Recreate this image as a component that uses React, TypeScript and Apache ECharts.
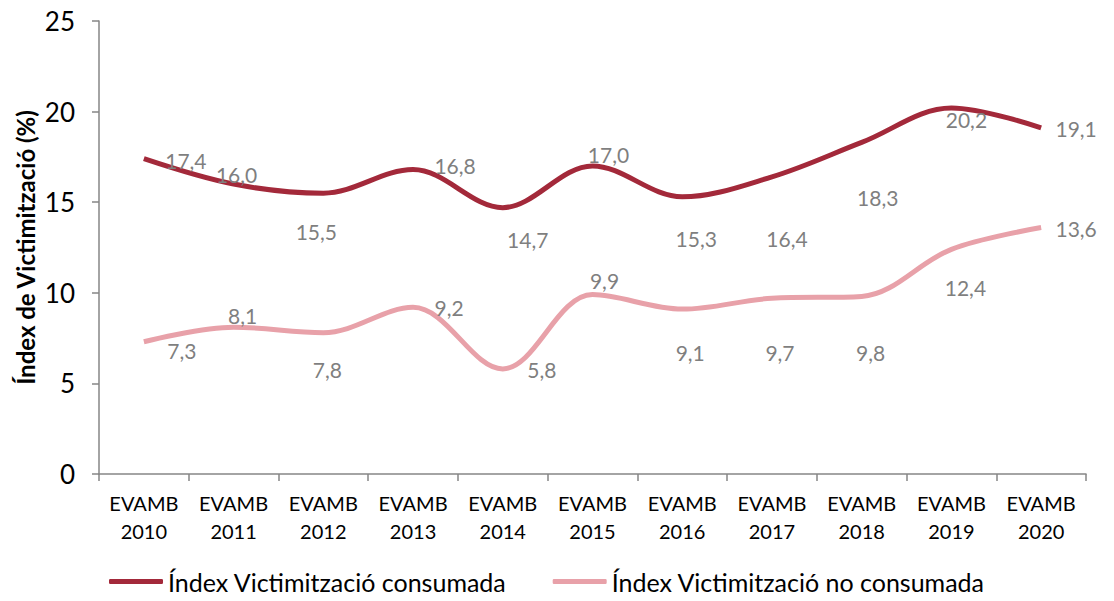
import React, { useEffect, useRef } from "react";
import * as echarts from "echarts";

const categories = ["EVAMB\n2010", "EVAMB\n2011", "EVAMB\n2012", "EVAMB\n2013", "EVAMB\n2014", "EVAMB\n2015", "EVAMB\n2016", "EVAMB\n2017", "EVAMB\n2018", "EVAMB\n2019", "EVAMB\n2020"];
const consumada = [17.4, 16.0, 15.5, 16.8, 14.7, 17.0, 15.3, 16.4, 18.3, 20.2, 19.1];
const noConsumada = [7.3, 8.1, 7.8, 9.2, 5.8, 9.9, 9.1, 9.7, 9.8, 12.4, 13.6];
const seriesNames = ["Índex Victimització consumada", "Índex Victimització no consumada"];
const yTicks = { min: 0, max: 25, interval: 5 };

const colorConsumada = "#A3293A";
const colorNoConsumada = "#E8A1A9";

// label offsets (pixels) relative to each point
const offsConsumada: [number, number][] = [[42, 2], [3, -10], [-7, 38], [42, -4], [25, 32], [16, -11], [14, 42], [15, 62], [16, 55], [15, 12], [35, 1]];
const offsNoConsumada: [number, number][] = [[38, 9], [9, -12], [4, 37], [36, 0], [39, 1], [12, -14], [8, 43], [8, 54], [9, 56], [14, 38], [35, 1]];

const FONT = "Lato, 'Open Sans', sans-serif";

function mkData(vals: number[], offs: [number, number][]) {
  return vals.map((v, i) => ({
    value: v,
    label: { offset: offs[i] },
  }));
}

export default function App() {
  const ref = useRef<HTMLDivElement>(null);
  useEffect(() => {
    const chart = echarts.init(ref.current!, null, { renderer: "svg" });
    const labelCommon = {
      show: true,
      position: "inside" as const,
      color: "#7f7f7f",
      fontSize: 21,
      fontFamily: FONT,
      formatter: (p: any) => p.value.toFixed(1).replace(".", ","),
    };
    chart.setOption({
      animation: false,
      textStyle: { fontFamily: FONT },
      grid: { left: 99, top: 21, right: 28, bottom: 127, containLabel: false },
      legend: {
        bottom: 2,
        left: 104,
        icon: "roundRect",
        itemWidth: 54,
        itemHeight: 5,
        itemGap: 46,
        textStyle: { fontSize: 25, color: "#000", fontFamily: FONT },
        data: [
          { name: seriesNames[0], itemStyle: { color: colorConsumada, opacity: 1 } },
          { name: seriesNames[1], itemStyle: { color: colorNoConsumada, opacity: 1 } },
        ],
      },
      xAxis: {
        type: "category",
        data: categories,
        boundaryGap: true,
        axisLine: { lineStyle: { color: "#868686", width: 1.5 } },
        axisTick: { show: true, interval: 0, length: 7, lineStyle: { color: "#868686", width: 1.5 } },
        axisLabel: { interval: 0, color: "#000", fontSize: 20, lineHeight: 28, margin: 15, fontFamily: FONT },
      },
      yAxis: {
        type: "value",
        min: yTicks.min,
        max: yTicks.max,
        interval: yTicks.interval,
        name: "Índex de Victimització (%)",
        nameLocation: "middle",
        nameGap: 62,
        nameMoveOverlap: false,
        nameTextStyle: { fontSize: 24, fontWeight: "bold", color: "#000", fontFamily: FONT },
        axisLine: { show: true, lineStyle: { color: "#868686", width: 1.5 } },
        axisTick: { show: true, length: 7, lineStyle: { color: "#868686", width: 1.5 } },
        axisLabel: { color: "#000", fontSize: 26, margin: 24, fontFamily: FONT },
        splitLine: { show: false },
      },
      series: [
        {
          name: seriesNames[0],
          type: "line",
          smooth: 0.35,
          data: mkData(consumada, offsConsumada),
          symbol: "circle",
          symbolSize: 0,
          showSymbol: true,
          itemStyle: { color: colorConsumada },
          lineStyle: { color: colorConsumada, width: 5 },
          label: labelCommon,
          z: 3,
        },
        {
          name: seriesNames[1],
          type: "line",
          smooth: 0.35,
          data: mkData(noConsumada, offsNoConsumada),
          symbol: "circle",
          symbolSize: 0,
          showSymbol: true,
          itemStyle: { color: colorNoConsumada },
          lineStyle: { color: colorNoConsumada, width: 5 },
          label: labelCommon,
          z: 2,
        },
      ],
    });
    return () => chart.dispose();
  }, []);
  return <div ref={ref} style={{ position: "absolute", left: 0, top: 0, width: 1114, height: 601 }} />;
}
